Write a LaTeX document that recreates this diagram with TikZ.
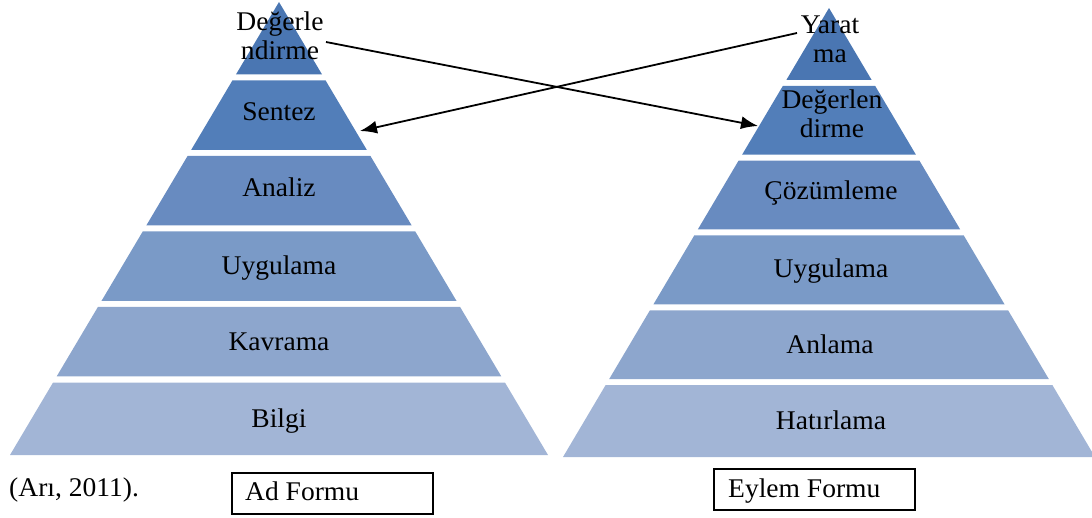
\documentclass[tikz,border=0pt]{standalone}
\usepackage{fontspec}
\setmainfont{Liberation Serif}[FakeStretch=1.02]
\usetikzlibrary{arrows.meta}
\definecolor{t1}{HTML}{4A76B2}
\definecolor{t2}{HTML}{527EB9}
\definecolor{t3}{HTML}{688BC0}
\definecolor{t4}{HTML}{7A9AC7}
\definecolor{t5}{HTML}{8DA6CD}
\definecolor{t6}{HTML}{A2B5D6}
\newcommand\drawpyr[4]{%
 \foreach \i/\c in {0/t1,1/t2,2/t3,3/t4,4/t5,5/t6}{%
  \pgfmathsetmacro\H{#3-#2}%
  \pgfmathsetmacro\yt{#2+\i*\H/6+(\i>0?3:0)}%
  \pgfmathsetmacro\yb{#2+(\i+1)*\H/6-(\i<5?3:0)}%
  \pgfmathsetmacro\wt{(#4/\H)*(\yt-#2)}%
  \pgfmathsetmacro\wb{(#4/\H)*(\yb-#2)}%
  \fill[\c] (#1-\wt,\yt) -- (#1+\wt,\yt) -- (#1+\wb,\yb) -- (#1-\wb,\yb) -- cycle;
 }}
\tikzset{
 lbl/.style={anchor=base,inner sep=0pt,align=center,font=\fontsize{27}{29}\selectfont},
 formbox/.style={draw,line width=1.5pt,anchor=north west,minimum width=201pt,minimum height=41pt,inner sep=0pt},
 formtxt/.style={anchor=base west,inner sep=0pt,font=\fontsize{27}{29}\selectfont},
 conn/.style={line width=1.8pt,-{Latex[length=17pt,width=13pt]}}
}
\begin{document}
\begin{tikzpicture}[x=1pt,y=-1pt]
\useasboundingbox (0,0) rectangle (1092,518);
\drawpyr{279}{2}{455}{269}
\drawpyr{829}{8}{457}{266}
% left labels
\node[lbl] (l1) at (280,60) {Değerle\\ndirme};
\node[lbl] (l2) at (279,121) {Sentez};
\node[lbl] (l3) at (279,197) {Analiz};
\node[lbl] (l4) at (279,275) {Uygulama};
\node[lbl] (l5) at (279,351) {Kavrama};
\node[lbl] (l6) at (279,427) {Bilgi};
% right labels
\node[lbl] (r1) at (830,63) {Yarat\\ma};
\node[lbl] (r2) at (832,138) {Değerlen\\dirme};
\node[lbl] (r3) at (831,200) {Çözümleme};
\node[lbl] (r4) at (831,278) {Uygulama};
\node[lbl] (r5) at (830,354) {Anlama};
\node[lbl] (r6) at (831,429) {Hatırlama};
% bottom
\node[formtxt] (src) at (9,496) {(Arı, 2011).};
\node[formbox] (adbox) at (231,472) {};
\node[formtxt] (ad) at (245,500) {Ad Formu};
\node[formbox] (eybox) at (713,468) {};
\node[formtxt] (ey) at (728,497) {Eylem Formu};
% connectors
\coordinate (a1s) at (326,42);
\coordinate (a1e) at (758,126);
\coordinate (a2s) at (797,33);
\coordinate (a2e) at (360,131);
\draw[conn] (a1s) -- (a1e);
\draw[conn] (a2s) -- (a2e);
\end{tikzpicture}
\end{document}
